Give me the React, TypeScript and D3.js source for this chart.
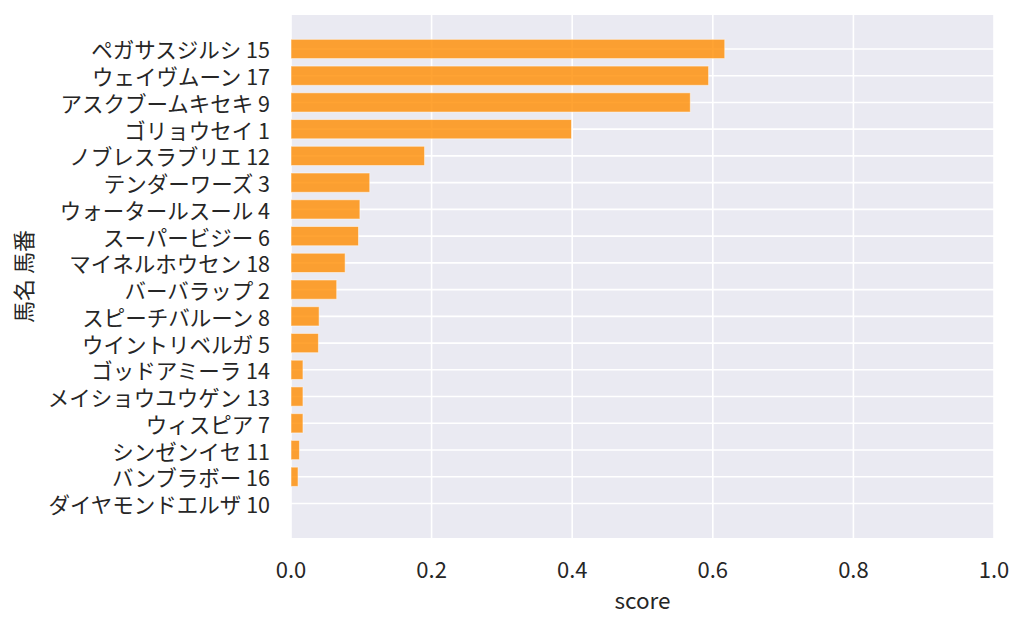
import * as React from 'react'
import * as d3 from 'd3'

const width = 1024
const height = 627
const margin = { top: 15, right: 30, bottom: 89, left: 291 }
const bg = '#eaeaf2'
const barColor = '#ff8c00'
const textColor = '#262626'
const font = '"Noto Sans CJK JP", "Noto Sans", sans-serif'

const horses = [
  'ペガサスジルシ 15',
  'ウェイヴムーン 17',
  'アスクブームキセキ 9',
  'ゴリョウセイ 1',
  'ノブレスラブリエ 12',
  'テンダーワーズ 3',
  'ウォータールスール 4',
  'スーパービジー 6',
  'マイネルホウセン 18',
  'バーバラップ 2',
  'スピーチバルーン 8',
  'ウイントリベルガ 5',
  'ゴッドアミーラ 14',
  'メイショウユウゲン 13',
  'ウィスピア 7',
  'シンゼンイセ 11',
  'バンブラボー 16',
  'ダイヤモンドエルザ 10',
]
const scores = [
  0.617, 0.594, 0.568, 0.399, 0.19, 0.112, 0.098, 0.096, 0.077, 0.065, 0.04,
  0.039, 0.017, 0.017, 0.017, 0.012, 0.01, 0,
]
const xTicks = [0, 0.2, 0.4, 0.6, 0.8, 1.0]

const App = () => {
  const xScale = d3
    .scaleLinear()
    .domain([0, 1])
    .range([margin.left, width - margin.right])
  const yScale = d3
    .scaleLinear()
    .domain([-1.27, horses.length + 0.29])
    .range([margin.top, height - margin.bottom])
  const barH = yScale(0.36) - yScale(-0.36)

  const plotW = width - margin.left - margin.right
  const plotH = height - margin.top - margin.bottom
  const cx = margin.left + plotW / 2
  const cy = margin.top + plotH / 2

  return (
    <svg width={width} height={height} style={{ position: 'absolute', left: 0, top: 0 }}>
      <rect x={margin.left} y={margin.top} width={plotW} height={plotH} fill={bg} />
      {xTicks.map(t => (
        <line key={t} x1={xScale(t)} x2={xScale(t)} y1={margin.top} y2={height - margin.bottom}
          stroke="#fff" strokeWidth={1.6} />
      ))}
      {horses.map((h, i) => (
        <line key={h} x1={margin.left} x2={width - margin.right} y1={yScale(i)} y2={yScale(i)}
          stroke="#fff" strokeWidth={1.6} />
      ))}
      {scores.map((s, i) => (
        <rect key={i} x={xScale(0)} y={yScale(i) - barH / 2} width={xScale(s) - xScale(0)}
          height={barH} fill={barColor} fillOpacity={0.8} stroke="#fff" strokeOpacity={0.5}
          strokeWidth={s > 0 ? 1 : 0} />
      ))}
      <g fontFamily={font} fontSize={21.5} fill={textColor}>
        {horses.map((h, i) => (
          <text key={h} x={margin.left - 21} y={yScale(i)} textAnchor="end" dominantBaseline="central">
            {h}
          </text>
        ))}
        {xTicks.map(t => (
          <text key={t} x={xScale(t)} y={578} textAnchor="middle" fontSize={22}>
            {t.toFixed(1)}
          </text>
        ))}
        <text x={cx} y={609} textAnchor="middle" fontSize={22.5}>score</text>
        <text transform={`translate(32, ${cy}) rotate(-90)`} textAnchor="middle" fontSize={22}>
          馬名 馬番
        </text>
      </g>
    </svg>
  )
}

export default App
